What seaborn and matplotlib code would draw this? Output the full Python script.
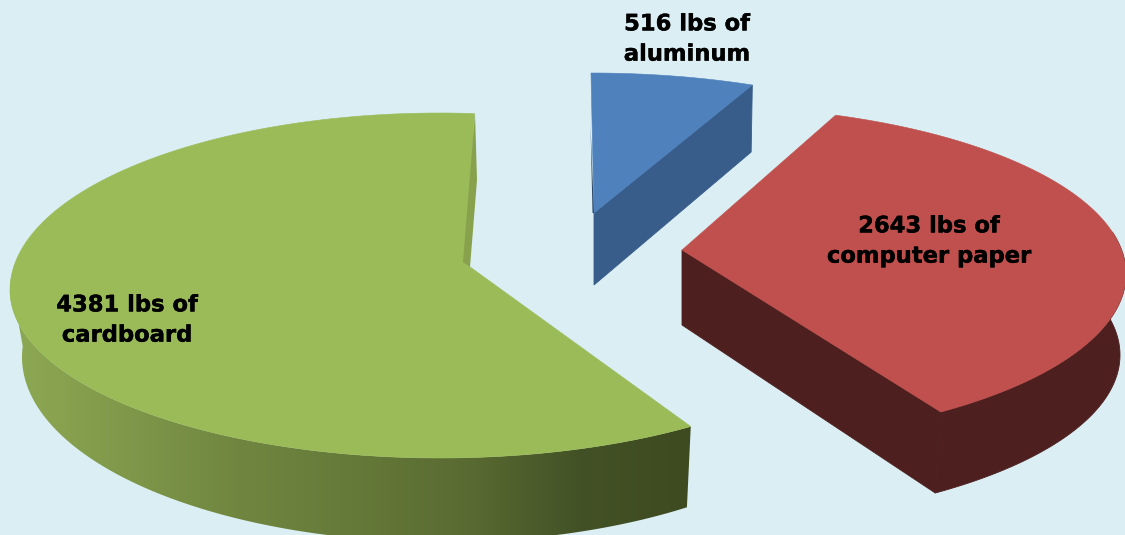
import numpy as np
import matplotlib
matplotlib.use("Agg")
import matplotlib.pyplot as plt
import matplotlib.patheffects as pe
from matplotlib.colors import ListedColormap
from matplotlib.patches import Polygon
import seaborn as sns

# ---- data ----
materials = ["aluminum", "computer paper", "cardboard"]
pounds = [516, 2643, 4381]
label_lines = ["516 lbs of\naluminum", "2643 lbs of\ncomputer paper", "4381 lbs of\ncardboard"]

# ---- styles ----
top_colors = ["#4f81bd", "#c0504d", "#9bbb59"]
wall_colors = ["#385d8a", "#4d1f1f", "#3d4a20"]
green_ramp = ["#8ea954", "#7f984a", "#708640", "#657a39", "#5a6b32", "#435226", "#3e4a20"]
BG = "#daeef3"
sns.set_theme(style="white", rc={"figure.facecolor": BG, "axes.facecolor": BG})
plt.rcParams["font.family"] = ["DejaVu Sans"]

# layout of each exploded slice: top ellipse (cx, cy, rx, ry back, ry front),
# apex, wall ellipse, wall apex, rotation and perspective stretch of the sweep
layout = {
    "aluminum": dict(top=(591, 205, 387, 132, 132), apex=(594, 213), low=(594, 272, 377, 132, 132),
                     lowapex=(594, 285), rot=0, stretch=1),
    "computer paper": dict(top=(695, 274, 431, 168, 168), apex=(682, 250), low=(690, 355, 430, 168, 168),
                           lowapex=(682, 325), rot=5.6, stretch=1),
    "cardboard": dict(top=(440, 290, 430, 177, 168), apex=(466, 264), low=(442, 357, 420, 185, 185),
                      lowapex=(470, 338), rot=6.5, stretch=1.053),
}
label_pos = [(687, 39), (929, 241), (127, 320)]

fig = plt.figure(figsize=(11.25, 5.35), dpi=100)
ax = fig.add_axes([0, 0, 1, 1])


def arc(ell, a0, a1, n=240):
    t = np.radians(np.linspace(a0, a1, n))
    cx, cy, rx, ry_back, ry_front = ell
    s = np.sin(t)
    return np.column_stack([cx + rx * np.cos(t), cy - np.where(s > 0, ry_back, ry_front) * s])


spans = 360 * np.array(pounds, dtype=float) / sum(pounds)
starts = 90 - np.concatenate([[0], np.cumsum(spans)[:-1]])

for i in [2, 1, 0]:
    name = materials[i]
    geo = layout[name]
    a0 = starts[i] + geo["rot"]
    a1 = a0 - spans[i] * geo["stretch"]
    angs = np.linspace(a0, a1, 240)
    top_arc = arc(geo["top"], a0, a1)
    low_arc = arc(geo["low"], a0, a1)
    apex, lowapex = np.array(geo["apex"]), np.array(geo["lowapex"])
    wall_kw = dict(color=wall_colors[i], lw=0.6, zorder=1)

    if name == "cardboard":
        idx = np.where(np.sin(np.radians(angs)) < 0.06)[0]
        wall = np.vstack([top_arc[idx], low_arc[idx][::-1]])
        grad = sns.blend_palette(green_ramp, 256)
        im = ax.imshow(np.linspace(0, 1, 256)[None, :], extent=(10, 694, 545, 0),
                       aspect="auto", cmap=ListedColormap(grad), zorder=1)
        im.set_clip_path(Polygon(wall, transform=ax.transData))
    elif name == "computer paper":
        ax.fill(*np.array([apex, top_arc[-1], low_arc[-1], lowapex]).T, **wall_kw)
        idx = np.where(np.sin(np.radians(angs)) < 0.25)[0]
        wall = np.vstack([top_arc[idx], low_arc[idx][::-1]])
        ax.fill(*wall.T, **wall_kw)
    else:
        ax.fill(*np.array([apex, top_arc[-1], low_arc[-1], lowapex]).T, **wall_kw)

    ax.fill(*np.vstack([apex, top_arc]).T, color=top_colors[i], lw=0.4, zorder=2)
    ax.text(*label_pos[i], label_lines[i], ha="center", va="center", fontsize=16.3,
            fontweight="bold", color="black", linespacing=1.4, zorder=4,
            path_effects=[pe.withStroke(linewidth=0.3, foreground="black")])

# thin visible back walls beside the gap
ax.fill([475, 477, 470, 463], [113, 180, 267, 262], color="#87a14d", lw=0, zorder=3)
ax.fill([590.5, 594, 592.5], [125, 213, 213], color="#2c4a6e", lw=0, zorder=3)

ax.set_xlim(0, 1125)
ax.set_ylim(535, 0)
ax.axis("off")
fig.savefig("out.png", dpi=100, facecolor=BG)
